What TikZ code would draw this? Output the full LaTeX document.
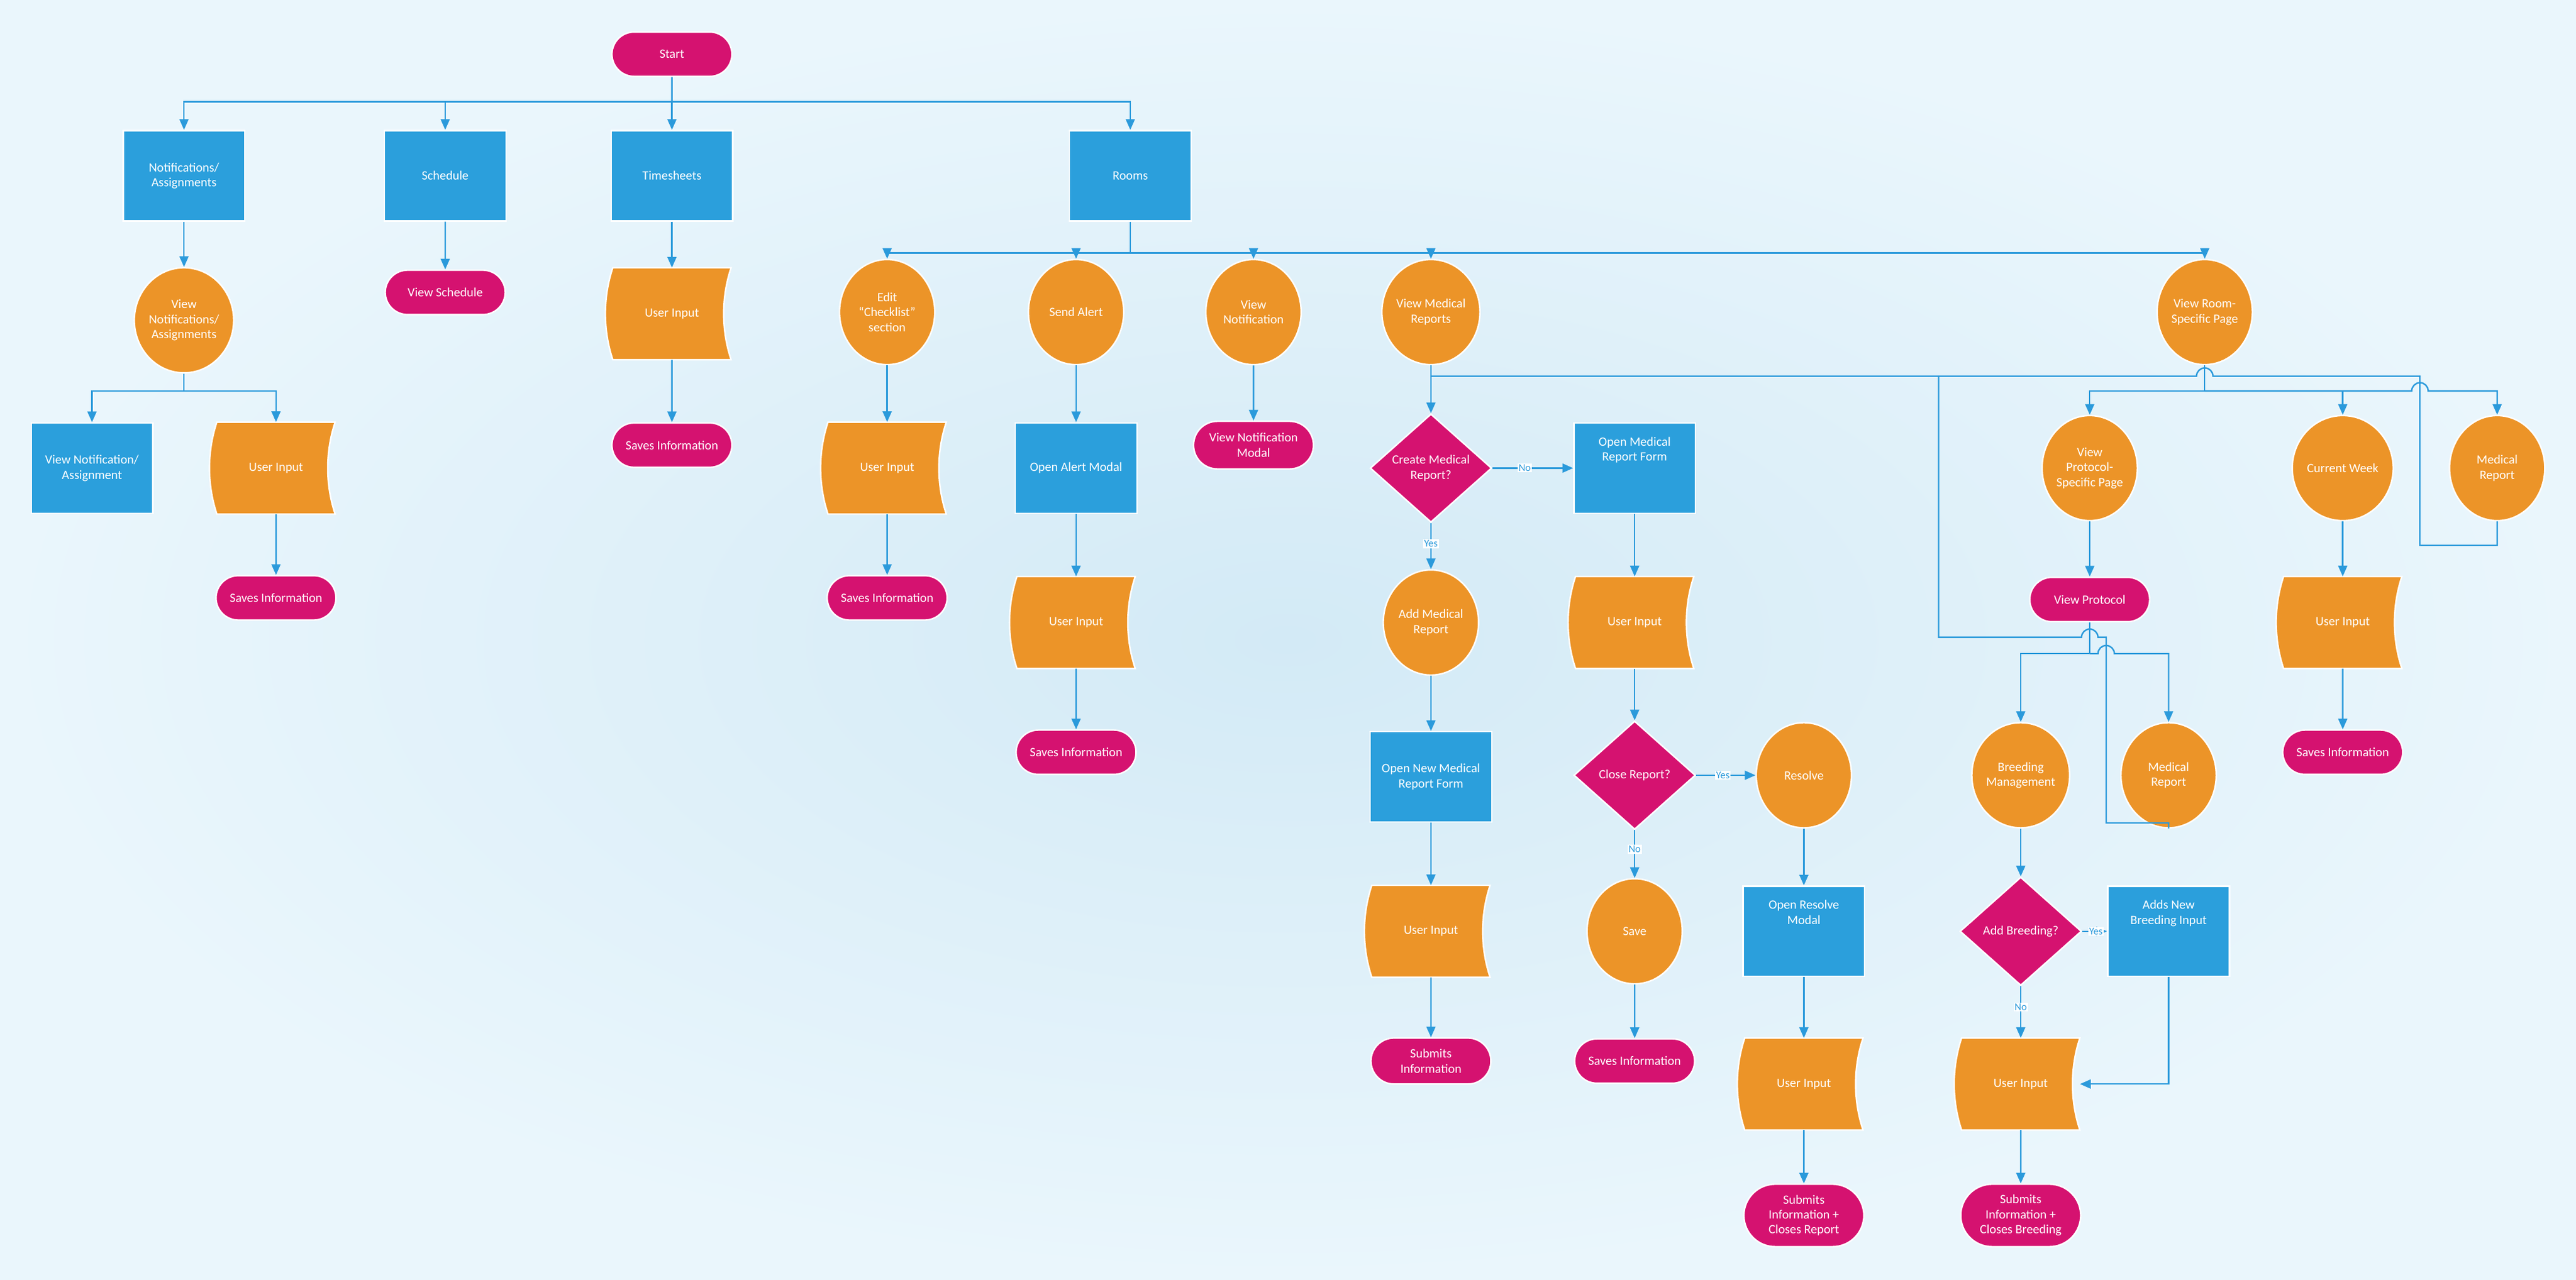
\documentclass[tikz,border=0pt]{standalone}
\usepackage{fontspec}
\setmainfont{Carlito}
\usetikzlibrary{shapes.geometric,shapes.misc,arrows.meta,calc}
\definecolor{bl}{HTML}{2B9FDC}
\definecolor{org}{HTML}{EC9428}
\definecolor{mag}{HTML}{D51270}
\definecolor{lnc}{HTML}{2B9ADB}
\definecolor{bgin}{HTML}{D3EAF6}
\definecolor{bgout}{HTML}{EAF6FC}
\tikzset{
  base/.style={draw=white,line width=0.9mm,text=white,align=center,font=\fontsize{22}{26}\selectfont,inner sep=0},
  boxn/.style={base,rectangle,fill=bl,minimum width=74mm,minimum height=55mm},
  circn/.style={base,ellipse,fill=org,minimum width=58mm,minimum height=64mm},
  pill/.style={base,rounded rectangle,fill=mag,minimum width=73mm,minimum height=27mm},
  pilltall/.style={pill,minimum height=38mm},
  dia/.style={base,diamond,fill=mag,minimum width=74mm,minimum height=66mm},
  uitext/.style={text=white,font=\fontsize{22}{26}\selectfont,minimum width=72mm,minimum height=56mm,inner sep=0},
  ln/.style={draw=lnc,line width=0.9mm},
  arr/.style={ln,-{Triangle[length=6.5mm,width=5.5mm]}},
  lbl/.style={fill=white,text=lnc,font=\fontsize{18}{20}\selectfont,inner sep=0.6mm}
}
\newcommand\UI[3]{% name, x, y
  \fill[org,draw=white,line width=0.9mm] (#2-36,#3-28) -- (#2+36,#3-28)
    .. controls (#2+30,#3-10) and (#2+30,#3+10) .. (#2+36,#3+28)
    -- (#2-36,#3+28) .. controls (#2-42,#3+10) and (#2-42,#3-10) .. (#2-36,#3-28) -- cycle;
  \node[uitext] (#1) at (#2,#3) {User Input};
}
\begin{document}
\begin{tikzpicture}[x=1mm,y=-1mm]
\useasboundingbox (0,0) rectangle (1568,779);
\shade[inner color=bgin,outer color=bgout] (0,0) rectangle (1568,779);
% top level
\node[pill] (start) at (409,33) {Start};
\node[boxn] (notif) at (112,107) {Notifications/\\Assignments};
\node[boxn] (sched) at (271,107) {Schedule};
\node[boxn] (time) at (409,107) {Timesheets};
\node[boxn] (rooms) at (688,107) {Rooms};
\coordinate (j0) at (409,62);
\draw[ln] (start) -- (j0);
\draw[arr] (j0) -| (notif);
\draw[arr] (j0) -| (sched);
\draw[arr] (j0) -- (time);
\draw[arr] (j0) -| (rooms);
% notifications branch
\node[circn] (vna) at (112,195) {View\\Notifications/\\Assignments};
\draw[arr] (notif) -- (vna);
\node[boxn] (vnas) at (56,285) {View Notification/\\Assignment};
\UI{ui1}{168}{285}
\node[pill] (si1) at (168,364) {Saves Information};
\coordinate (j1) at (112,238);
\draw[ln] (vna) -- (j1);
\draw[arr] (j1) -| (vnas);
\draw[arr] (j1) -| (ui1);
\draw[arr] (ui1) -- (si1);
% schedule, timesheets
\node[pill] (vs) at (271,178) {View Schedule};
\draw[arr] (sched) -- (vs);
\UI{ui2}{409}{191}
\node[pill] (si2) at (409,271) {Saves Information};
\draw[arr] (time) -- (ui2);
\draw[arr] (ui2) -- (si2);
% rooms branch
\node[circn] (ecl) at (540,190) {Edit\\``Checklist''\\section};
\node[circn] (sa) at (655,190) {Send Alert};
\node[circn] (vn) at (763,190) {View\\Notification};
\node[circn] (vmr) at (871,190) {View Medical\\Reports};
\node[circn] (vrs) at (1342,190) {View Room-\\Specific Page};
\coordinate (j2) at (688,154);
\draw[ln] (rooms) -- (j2);
\draw[arr] (j2) -| (ecl);
\draw[arr] (j2) -| (sa);
\draw[arr] (j2) -| (vn);
\draw[arr] (j2) -| (vmr);
\draw[arr] (j2) -| (vrs);
% checklist
\UI{ui3}{540}{285}
\node[pill] (si3) at (540,364) {Saves Information};
\draw[arr] (ecl) -- (ui3);
\draw[arr] (ui3) -- (si3);
% send alert
\node[boxn] (oam) at (655,285) {Open Alert Modal};
\UI{ui4}{655}{379}
\node[pill] (si4) at (655,458) {Saves Information};
\draw[arr] (sa) -- (oam);
\draw[arr] (oam) -- (ui4);
\draw[arr] (ui4) -- (si4);
% view notification
\node[pill,minimum height=29mm] (vnm) at (763,271) {View Notification\\Modal};
\draw[arr] (vn) -- (vnm);
% medical reports
\node[dia] (cmr) at (871,285) {Create Medical\\Report?};
\draw[arr] (vmr) -- (cmr);
\node[boxn] (omrf) at (995,285) {Open Medical\\Report Form\\[14mm]};
\draw[arr] (cmr) -- node[lbl,pos=0.4]{No} (omrf);
\node[circn] (amr) at (871,379) {Add Medical\\Report};
\draw[arr] (cmr) -- node[lbl,pos=0.45]{Yes} (amr);
\node[boxn] (onmrf) at (871,473) {Open New Medical\\Report Form};
\draw[arr] (amr) -- (onmrf);
\UI{ui5}{871}{567}
\draw[arr] (onmrf) -- (ui5);
\node[pill,minimum height=28mm] (subi) at (871,646) {Submits\\Information};
\draw[arr] (ui5) -- (subi);
\UI{ui6}{995}{379}
\draw[arr] (omrf) -- (ui6);
\node[dia] (crp) at (995,472) {Close Report?};
\draw[arr] (ui6) -- (crp);
\node[circn] (res) at (1098,472) {Resolve};
\draw[arr] (crp) -- node[lbl,pos=0.45]{Yes} (res);
\node[circn] (save) at (995,567) {Save};
\draw[arr] (crp) -- node[lbl,pos=0.4]{No} (save);
\node[pill] (si5) at (995,646) {Saves Information};
\draw[arr] (save) -- (si5);
\node[boxn] (orm) at (1098,567) {Open Resolve\\Modal\\[14mm]};
\draw[arr] (res) -- (orm);
\UI{ui7}{1098}{660}
\draw[arr] (orm) -- (ui7);
\node[pilltall] (sicr) at (1098,740) {Submits\\Information +\\Closes Report};
\draw[arr] (ui7) -- (sicr);
% room specific
\node[circn] (vpsp) at (1272,285) {View\\Protocol-\\Specific Page};
\node[circn] (cw) at (1426,285) {Current Week};
\node[circn] (mr2) at (1520,285) {Medical\\Report};
\coordinate (j3) at (1342,238);
\draw[ln] (vrs) -- (j3);
\draw[arr] (j3) -| (vpsp);
\draw[arr] (j3) -| (cw);
\draw[arr] (j3) -- (1468,238) arc(180:360:5) -- (1520,238) -- (mr2);
\node[pill] (vp) at (1272,365) {View Protocol};
\draw[arr] (vpsp) -- (vp);
\UI{ui8}{1426}{379}
\node[pill] (si6) at (1426,458) {Saves Information};
\draw[arr] (cw) -- (ui8);
\draw[arr] (ui8) -- (si6);
\node[circn] (bm) at (1230,472) {Breeding\\Management};
\node[circn] (mr1) at (1320,472) {Medical\\Report};
\coordinate (j4) at (1272,398);
\draw[ln] (vp) -- (j4);
\draw[arr] (j4) -| (bm);
\draw[arr] (j4) -- (1277,398) arc(180:360:5) -- (1320,398) -- (mr1);
\node[dia] (ab) at (1230,567) {Add Breeding?};
\draw[arr] (bm) -- (ab);
\node[boxn] (anb) at (1320,567) {Adds New\\Breeding Input\\[14mm]};
\draw[arr] (ab) -- node[lbl,pos=0.55]{Yes} (anb);
\UI{ui9}{1230}{660}
\draw[arr] (ab) -- node[lbl,pos=0.4]{No} (ui9);
\draw[arr] (anb) |- (ui9);
\node[pilltall] (sicb) at (1230,740) {Submits\\Information +\\Closes Breeding};
\draw[arr] (ui9) -- (sicb);
% return lines
\coordinate (r0) at (871,229);
\draw[ln] (mr2.south) |- (1473,332) -- (1473,229) -- (1347,229) arc(0:-180:5) -- (r0);
\draw[ln] (1180,229) -- (1180,388) -- (1267,388) arc(180:360:5) -- (1282,388) -- (1282,501) -| (mr1.south);
\end{tikzpicture}
\end{document}
